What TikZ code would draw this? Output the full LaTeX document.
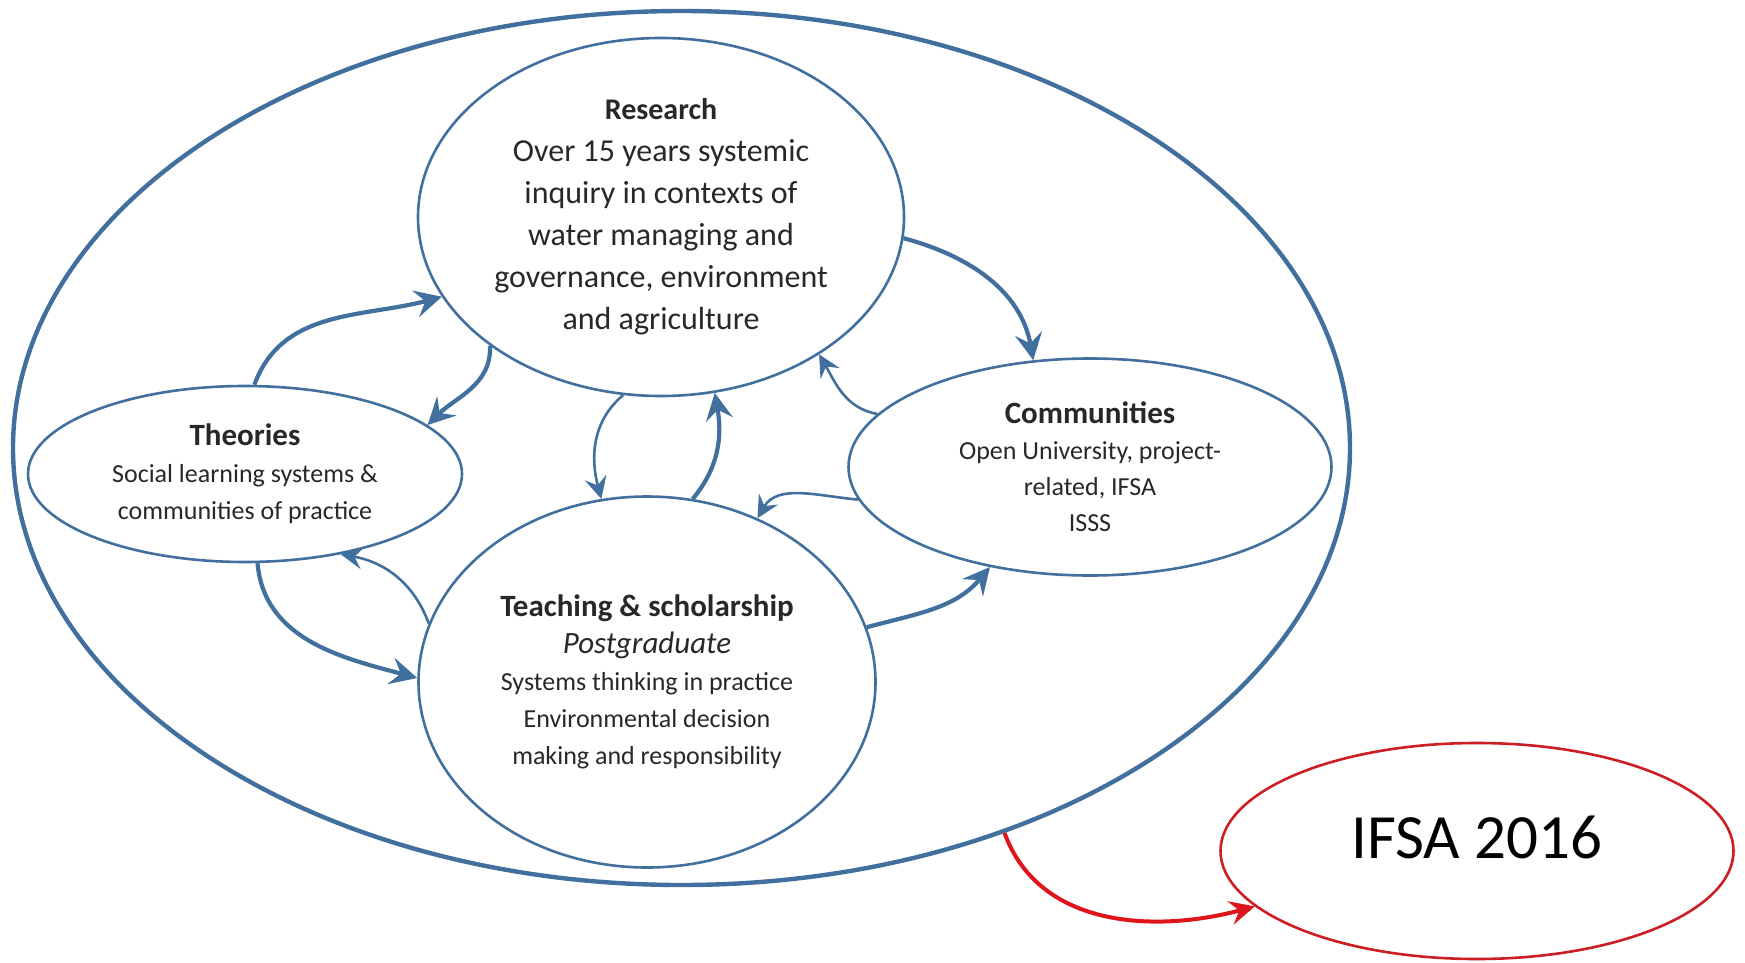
\documentclass[tikz,border=0pt]{standalone}
\usepackage{fontspec}
\setmainfont{Carlito}
\usetikzlibrary{arrows.meta,shapes.geometric}
\definecolor{bl}{RGB}{66,112,158}
\definecolor{rd}{RGB}{222,22,28}
\definecolor{rde}{RGB}{205,30,35}
\definecolor{tx}{RGB}{40,40,40}
\begin{document}
\begin{tikzpicture}[x=1pt,y=-1pt,
  bub/.style={ellipse,draw=bl,line width=2.6pt,fill=white,inner sep=0pt,align=center,text=tx},
  thickarr/.style={draw=bl,line width=4.2pt,-{Stealth[length=27pt,width=27pt,inset=10pt]}},
  thinarr/.style={draw=bl,line width=2.6pt,-{Stealth[length=22pt,width=22pt,inset=8pt]}},
]
\useasboundingbox[fill=white] (0,0) rectangle (1745,963);

\node[ellipse,draw=bl,line width=4.4pt,minimum width=1337pt,minimum height=874pt,inner sep=0pt] (outer) at (681.5,448) {};

\node[bub,minimum width=486pt,minimum height=358pt,font=\fontsize{32}{42}\selectfont] (res) at (661,217)
  {{\fontsize{30}{42}\selectfont\bfseries Research}\\
   Over 15 years systemic\\ inquiry in contexts of\\ water managing and\\ governance, environment\\ and agriculture};

\node[bub,minimum width=434pt,minimum height=176pt,font=\fontsize{26}{37}\selectfont] (theo) at (245,474)
  {{\fontsize{31}{37}\selectfont\bfseries Theories}\\
   Social learning systems \&\\ communities of practice};

\node[bub,minimum width=483pt,minimum height=217pt,font=\fontsize{26}{36}\selectfont] (comm) at (1090,467)
  {{\fontsize{31}{36}\selectfont\bfseries Communities}\\
   Open University, project-\\ related, IFSA\\ ISSS};

\node[bub,minimum width=457pt,minimum height=371pt,font=\fontsize{26}{37}\selectfont] (teach) at (647,682)
  {{\fontsize{31}{39}\selectfont\bfseries Teaching \& scholarship}\\
   {\fontsize{31}{39}\selectfont\itshape Postgraduate}\\
   Systems thinking in practice\\ Environmental decision\\ making and responsibility};

\node[ellipse,draw=rde,line width=2.6pt,minimum width=513pt,minimum height=216pt,inner sep=0pt,
      font=\fontsize{63}{70}\selectfont,text=black,text depth=28pt] (ifsa) at (1477,851) {IFSA 2016};

% arrows
\draw[thickarr] (theo.84) to[out=70,in=195] (res.200);
\draw[thickarr] (res.217) to[out=-88,in=45] (theo.15);
\draw[thinarr] (res.258) to[out=220,in=105] (teach.104);
\draw[thickarr] (teach.76) to[out=50,in=-80] (res.287);
\draw[thickarr] (res.-5) to[out=-15,in=100] (comm.118);
\draw[thinarr] (comm.166) to[out=170,in=-60] (res.-41);
\draw[thinarr] (comm.188) to[out=175,in=60] (teach.56);
\draw[thickarr] (teach.14) to[out=15,in=230] (comm.225);
\draw[thinarr] (teach.165) to[out=110,in=-10] (theo.-40);
\draw[thickarr] (theo.278) to[out=-85,in=165] (teach.179);

\draw[draw=rd,line width=4pt,-{Stealth[length=25pt,width=24pt,inset=9pt]}] (outer.-50) to[out=-70,in=195] (ifsa.194);
\end{tikzpicture}
\end{document}
